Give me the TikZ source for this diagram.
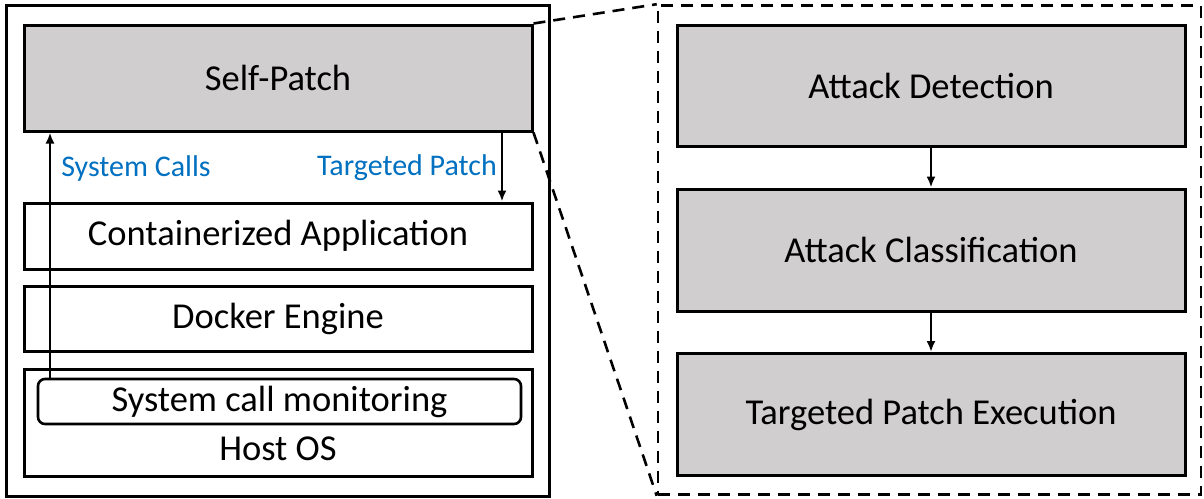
\documentclass[tikz,border=0pt]{standalone}
\usepackage{fontspec}
\setmainfont{Carlito}
\usetikzlibrary{arrows.meta}
\definecolor{boxgray}{HTML}{D0CECE}
\definecolor{lblblue}{HTML}{0070C0}
\begin{document}
\begin{tikzpicture}[x=1pt,y=-1pt,
  layer/.style={draw=black,line width=3pt,minimum width=508pt,inner sep=0pt,font=\fontsize{36.5}{42}\selectfont},
  graybox/.style={layer,fill=boxgray},
  lbl/.style={text=lblblue,font=\fontsize{30}{34}\selectfont,inner sep=0pt},
  arr/.style={line width=2.5pt,-{Latex[length=11pt,width=9pt]}},
  dashline/.style={line width=2.6pt,dash pattern=on 12pt off 8pt}]
\useasboundingbox (0,0) rectangle (1204,498);
% left side
\node[draw=black,line width=3pt,minimum width=543pt,minimum height=491pt,inner sep=0pt] (outer) at (277.5,250.5) {};
\node[graybox,minimum height=106pt] (sp) at (278,78) {Self-Patch};
\node[layer,minimum height=66pt] (ca) at (278,236) {Containerized Application};
\node[layer,minimum height=65pt] (de) at (278,318.5) {Docker Engine};
\node[layer,minimum height=107pt] (hos) at (278,422.5) {};
\node[font=\fontsize{36.5}{42}\selectfont,inner sep=0pt] (hostxt) at (278,449) {Host OS};
\node[draw=black,line width=2.6pt,rounded corners=7pt,minimum width=483pt,minimum height=45pt,inner sep=0pt,font=\fontsize{36.5}{42}\selectfont] (mon) at (279.5,401.5) {System call monitoring};
\coordinate (sc) at (50,0);
\coordinate (tp) at (502,0);
\draw[arr] (mon.north -| sc) -- (sp.south -| sc);
\draw[arr] (sp.south -| tp) -- (ca.north -| tp);
\node[lbl] (l1) at (136,168) {System Calls};
\node[lbl] (l2) at (407,168) {Targeted Patch};
% right side
\node[draw=black,line width=2.6pt,dash pattern=on 12pt off 8pt,minimum width=543pt,minimum height=489pt,inner sep=0pt] (db) at (929.5,250) {};
\node[graybox,minimum height=121pt] (ad) at (931,85.5) {Attack Detection};
\node[graybox,minimum height=122pt] (ac) at (931,250) {Attack Classification};
\node[graybox,minimum height=122pt] (tpe) at (931,414.5) {Targeted Patch Execution};
\draw[arr] (ad) -- (ac);
\draw[arr] (ac) -- (tpe);
% zoom lines
\draw[dashline] (sp.north east) -- (db.north west);
\draw[dashline] (sp.south east) -- (db.south west);
\end{tikzpicture}
\end{document}
